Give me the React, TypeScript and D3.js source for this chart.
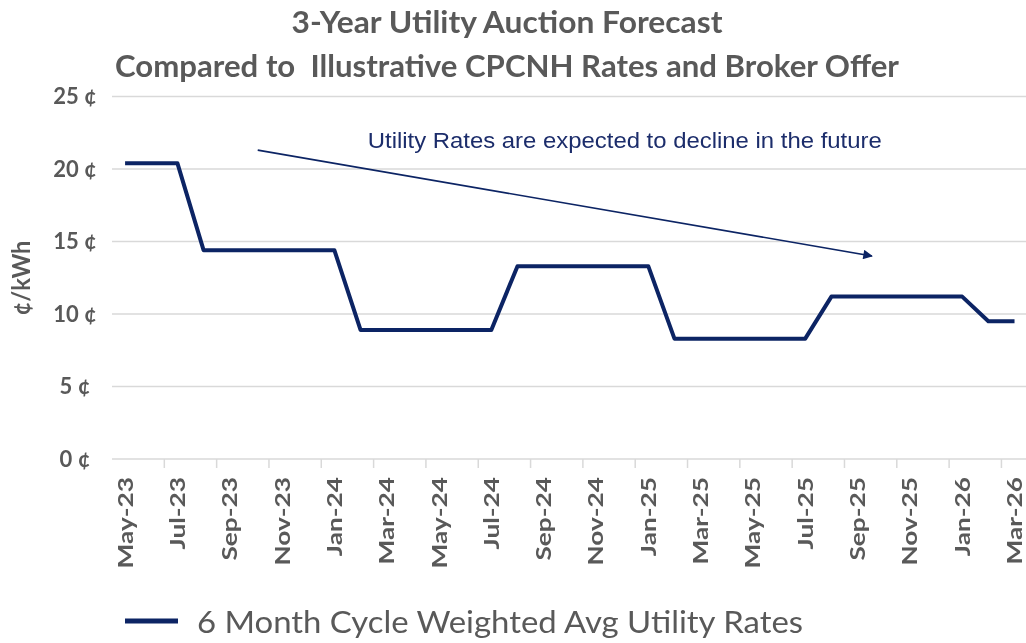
import { useEffect, useRef } from "react";
import * as d3 from "d3";

// ─── Data ────────────────────────────────────────────────────────────────────
const months = [
  "May-23", "Jun-23", "Jul-23", "Aug-23", "Sep-23", "Oct-23", "Nov-23", "Dec-23",
  "Jan-24", "Feb-24", "Mar-24", "Apr-24", "May-24", "Jun-24", "Jul-24", "Aug-24",
  "Sep-24", "Oct-24", "Nov-24", "Dec-24", "Jan-25", "Feb-25", "Mar-25", "Apr-25",
  "May-25", "Jun-25", "Jul-25", "Aug-25", "Sep-25", "Oct-25", "Nov-25", "Dec-25",
  "Jan-26", "Feb-26", "Mar-26",
];

// 6 month cycle weighted avg utility rate, ¢/kWh
const utilityRates = [
  20.4, 20.4, 20.4,
  14.4, 14.4, 14.4, 14.4, 14.4, 14.4,
  8.9, 8.9, 8.9, 8.9, 8.9, 8.9,
  13.3, 13.3, 13.3, 13.3, 13.3, 13.3,
  8.3, 8.3, 8.3, 8.3, 8.3, 8.3,
  11.2, 11.2, 11.2, 11.2, 11.2, 11.2,
  9.5, 9.5,
];

const yTicks = [0, 5, 10, 15, 20, 25];

// trend arrow, in (month index, ¢) units
const arrowFrom = [5.07, 21.3];
const arrowTo = [28.55, 14.0];
const noteAt = [19.1, 21.43];
const noteText = "Utility Rates are expected to decline in the future";

const titleLines = [
  "3-Year Utility Auction Forecast",
  "Compared to  Illustrative CPCNH Rates and Broker Offer",
];
const legendLabel = "6 Month Cycle Weighted Avg Utility Rates";

// ─── Chart ───────────────────────────────────────────────────────────────────
const W = 1026;
const H = 643;
const NAVY = "#0c2464";
const GRAY = "#595959";
const FONT = "Lato, 'Open Sans', sans-serif";

export default function App() {
  const svgRef = useRef<SVGSVGElement>(null);

  useEffect(() => {
    if (!svgRef.current) return;
    const svg = d3.select(svgRef.current);
    svg.selectAll("*").remove();

    const plotLeft = 112;
    const step = 26.16;
    const plotRight = plotLeft + months.length * step;

    // index -> pixel (category centers at i)
    const x = d3
      .scaleLinear()
      .domain([-0.5, months.length - 0.5])
      .range([plotLeft, plotRight]);
    const y = d3.scaleLinear().domain([0, 25]).range([459, 96.5]);

    // ── Titles ─────────────────────────────────────────────────────────────
    const titleBase = [33, 76.5];
    const titleLen = [431, 784];
    titleLines.forEach((t, i) => {
      svg
        .append("text")
        .attr("x", 507)
        .attr("y", titleBase[i])
        .attr("text-anchor", "middle")
        .attr("font-family", FONT)
        .attr("font-weight", 700)
        .attr("font-size", 31)
        .attr("fill", GRAY)
        .attr("textLength", titleLen[i])
        .attr("lengthAdjust", "spacingAndGlyphs")
        .style("white-space", "pre")
        .text(t);
    });

    // ── Grid lines ─────────────────────────────────────────────────────────
    svg
      .append("g")
      .selectAll("line")
      .data(yTicks)
      .enter()
      .append("line")
      .attr("x1", plotLeft)
      .attr("x2", W)
      .attr("y1", (d) => y(d))
      .attr("y2", (d) => y(d))
      .attr("stroke", "#d9d9d9")
      .attr("stroke-width", 1.5);

    // ── Y labels ───────────────────────────────────────────────────────────
    svg
      .append("g")
      .selectAll("text")
      .data(yTicks)
      .enter()
      .append("text")
      .attr("x", 75)
      .attr("y", (d) => y(d) + 7.5)
      .attr("text-anchor", "middle")
      .attr("font-family", FONT)
      .attr("font-weight", 700)
      .attr("font-size", 22)
      .attr("fill", GRAY)
      .text((d) => `${d} ¢`);

    svg
      .append("text")
      .attr("transform", `translate(30,278) rotate(-90)`)
      .attr("text-anchor", "middle")
      .attr("font-family", FONT)
      .attr("font-weight", 700)
      .attr("font-size", 25)
      .attr("fill", GRAY)
      .attr("textLength", 75)
      .attr("lengthAdjust", "spacingAndGlyphs")
      .text("¢/kWh");

    // ── X ticks and labels ─────────────────────────────────────────────────
    const tickIdx = d3.range(2, months.length, 2);
    svg
      .append("g")
      .selectAll("line")
      .data(tickIdx)
      .enter()
      .append("line")
      .attr("x1", (i) => x(i - 0.5))
      .attr("x2", (i) => x(i - 0.5))
      .attr("y1", y(0))
      .attr("y2", y(0) + 9)
      .attr("stroke", "#d9d9d9")
      .attr("stroke-width", 1.5);

    const labelIdx = d3.range(0, months.length, 2);
    svg
      .append("g")
      .selectAll("text")
      .data(labelIdx)
      .enter()
      .append("text")
      .attr(
        "transform",
        (i) => `translate(${x(i) + 7.5},477) rotate(-90) scale(1.25,1)`
      )
      .attr("text-anchor", "end")
      .attr("font-family", FONT)
      .attr("font-weight", 700)
      .attr("font-size", 21)
      .attr("fill", GRAY)
      .text((i) => months[i]);

    // ── Trend arrow + note ─────────────────────────────────────────────────
    const defs = svg.append("defs");
    defs
      .append("marker")
      .attr("id", "arrowhead")
      .attr("viewBox", "0 0 10 10")
      .attr("refX", 9)
      .attr("refY", 5)
      .attr("markerWidth", 7)
      .attr("markerHeight", 6)
      .attr("markerUnits", "strokeWidth")
      .attr("orient", "auto")
      .append("path")
      .attr("d", "M0,0 L10,5 L0,10 z")
      .attr("fill", NAVY);

    svg
      .append("line")
      .attr("x1", x(arrowFrom[0]))
      .attr("y1", y(arrowFrom[1]))
      .attr("x2", x(arrowTo[0]))
      .attr("y2", y(arrowTo[1]))
      .attr("stroke", NAVY)
      .attr("stroke-width", 1.6)
      .attr("marker-end", "url(#arrowhead)");

    svg
      .append("text")
      .attr("x", x(noteAt[0]))
      .attr("y", y(noteAt[1]))
      .attr("text-anchor", "middle")
      .attr("font-family", "'Liberation Sans', Arial, sans-serif")
      .attr("font-size", 22)
      .attr("fill", "#1c2d6b")
      .attr("textLength", 514)
      .attr("lengthAdjust", "spacingAndGlyphs")
      .text(noteText);

    // ── Line ───────────────────────────────────────────────────────────────
    const line = d3
      .line<number>()
      .x((_, i) => x(i))
      .y((d) => y(d));

    svg
      .append("path")
      .datum(utilityRates)
      .attr("d", line)
      .attr("fill", "none")
      .attr("stroke", NAVY)
      .attr("stroke-width", 4)
      .attr("stroke-linejoin", "round");

    // ── Legend ─────────────────────────────────────────────────────────────
    svg
      .append("line")
      .attr("x1", 125)
      .attr("x2", 178)
      .attr("y1", 621)
      .attr("y2", 621)
      .attr("stroke", NAVY)
      .attr("stroke-width", 5);

    svg
      .append("text")
      .attr("x", 197)
      .attr("y", 633)
      .attr("font-family", FONT)
      .attr("font-size", 30)
      .attr("fill", GRAY)
      .attr("textLength", 606)
      .attr("lengthAdjust", "spacingAndGlyphs")
      .text(legendLabel);
  }, []);

  return (
    <div style={{ position: "fixed", left: 0, top: 0 }}>
      <svg ref={svgRef} width={W} height={H} viewBox={`0 0 ${W} ${H}`} />
    </div>
  );
}
